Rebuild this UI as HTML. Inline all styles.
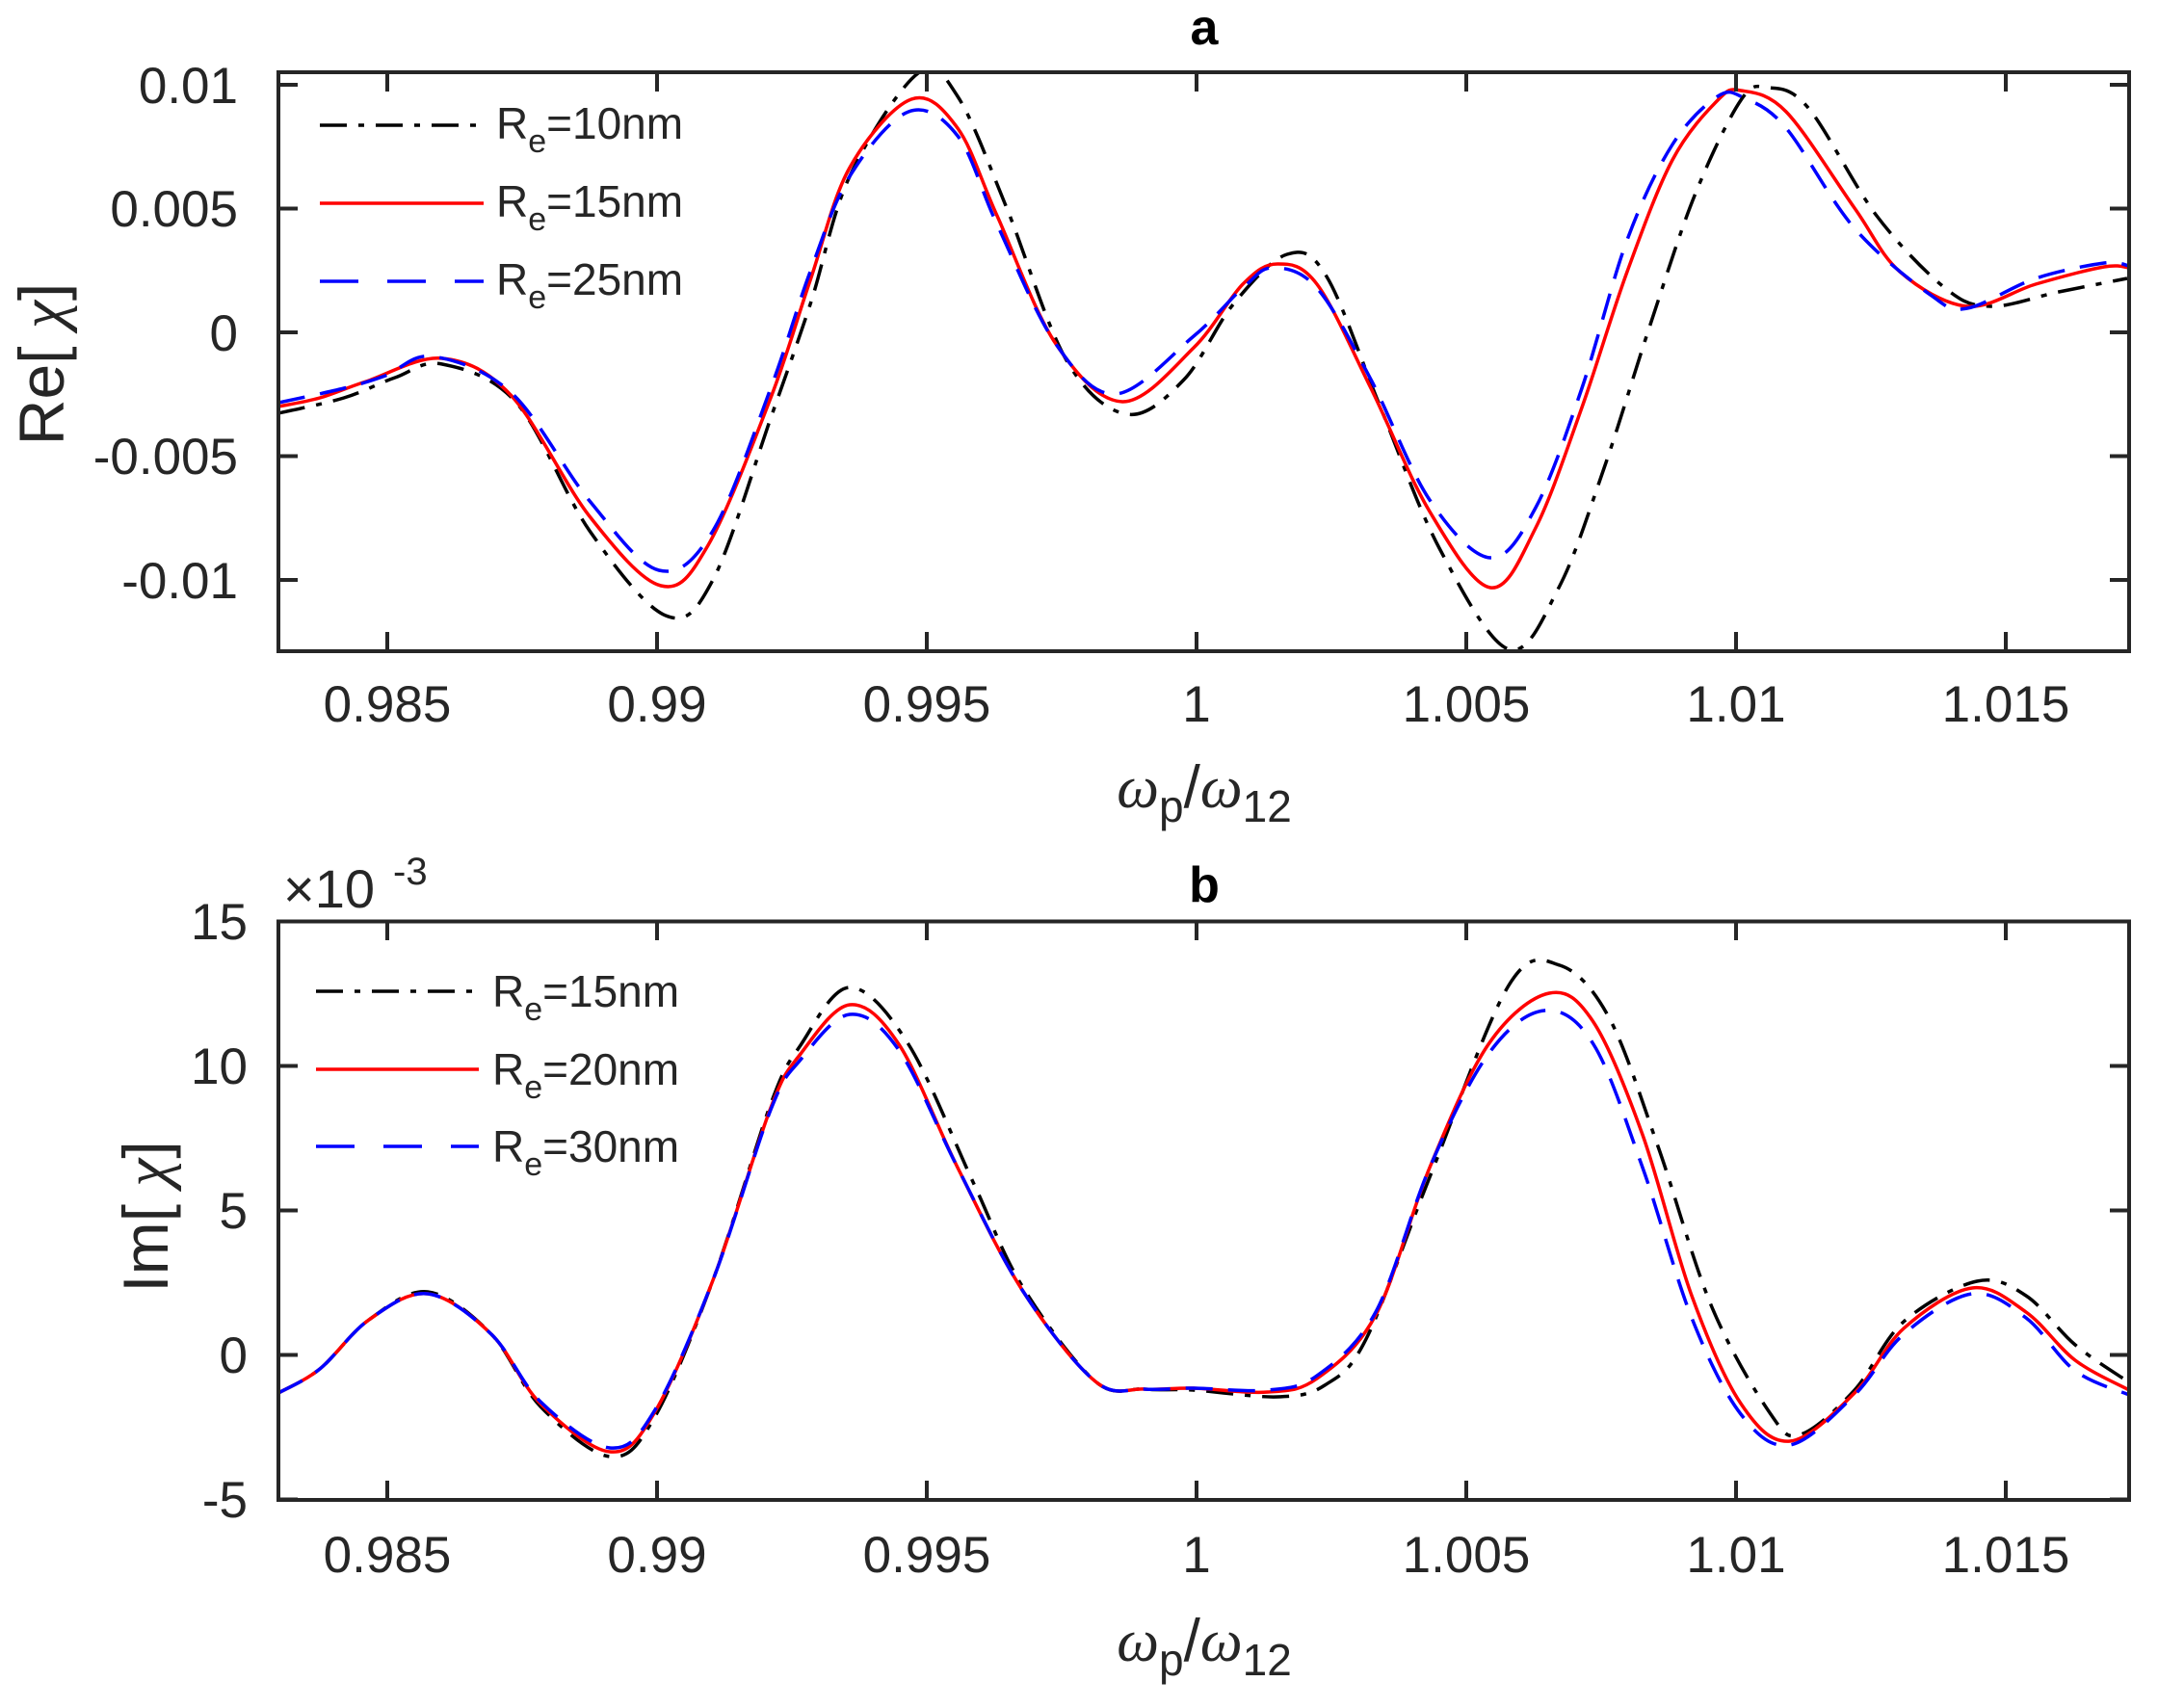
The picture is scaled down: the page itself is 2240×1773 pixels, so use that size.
<!DOCTYPE html>
<html><head><meta charset="utf-8">
<style>
html,body{margin:0;padding:0;background:#fff;}
svg{display:block;}
text{font-family:"Liberation Sans",Arial,sans-serif;fill:#262626;}
</style></head>
<body>
<svg id="s" xmlns="http://www.w3.org/2000/svg" width="2240" height="1773" viewBox="0 0 2240 1773">
<defs>
<clipPath id="c1"><rect x="289" y="75" width="1921" height="601"/></clipPath>
<clipPath id="c2"><rect x="289" y="956" width="1921" height="601"/></clipPath>
</defs>
<rect width="2240" height="1773" fill="#fff"/>
<g id="curves"></g>
<g id="axes" stroke="#262626" stroke-width="4" fill="none">
<rect x="289" y="75" width="1921" height="601"/>
<rect x="289" y="956.5" width="1921" height="600.5"/>
</g>
<g id="ticks" stroke="#262626" stroke-width="4"></g>
<text x="1250" y="46" font-size="52" font-weight="bold" text-anchor="middle" style="fill:#000">a</text>
<text x="1250" y="936" font-size="52" font-weight="bold" text-anchor="middle" style="fill:#000">b</text>
<g font-size="53" text-anchor="end">
<text x="247" y="107">0.01</text>
<text x="247" y="235">0.005</text>
<text x="247" y="364">0</text>
<text x="247" y="492">-0.005</text>
<text x="247" y="621">-0.01</text>
<text x="257" y="975">15</text>
<text x="257" y="1125">10</text>
<text x="257" y="1275">5</text>
<text x="257" y="1425">0</text>
<text x="257" y="1575">-5</text>
</g>
<g font-size="53" text-anchor="middle">
<text x="402" y="749">0.985</text>
<text x="682" y="749">0.99</text>
<text x="962" y="749">0.995</text>
<text x="1242" y="749">1</text>
<text x="1522" y="749">1.005</text>
<text x="1802" y="749">1.01</text>
<text x="2082" y="749">1.015</text>
<text x="402" y="1632">0.985</text>
<text x="682" y="1632">0.99</text>
<text x="962" y="1632">0.995</text>
<text x="1242" y="1632">1</text>
<text x="1522" y="1632">1.005</text>
<text x="1802" y="1632">1.01</text>
<text x="2082" y="1632">1.015</text>
</g>
<text x="1250" y="838" font-size="62" text-anchor="middle"><tspan font-family="Liberation Serif" font-style="italic">ω</tspan><tspan font-size="46" dy="15">p</tspan><tspan dy="-15">/</tspan><tspan font-family="Liberation Serif" font-style="italic">ω</tspan><tspan font-size="46" dy="15">12</tspan></text>
<text x="1250" y="1724" font-size="62" text-anchor="middle"><tspan font-family="Liberation Serif" font-style="italic">ω</tspan><tspan font-size="46" dy="15">p</tspan><tspan dy="-15">/</tspan><tspan font-family="Liberation Serif" font-style="italic">ω</tspan><tspan font-size="46" dy="15">12</tspan></text>
<text transform="translate(66,378) rotate(-90)" font-size="66" text-anchor="middle">Re[ <tspan font-family="Liberation Serif" font-style="italic">χ</tspan>]</text>
<text transform="translate(174,1263) rotate(-90)" font-size="66" text-anchor="middle">Im[ <tspan font-family="Liberation Serif" font-style="italic">χ</tspan>]</text>
<text x="294" y="942" font-size="56">×10</text>
<text x="408" y="918" font-size="40">-3</text>
<g font-size="46">
<text x="515" y="144">R<tspan font-size="34" dy="14">e</tspan><tspan dy="-14">=10nm</tspan></text>
<text x="515" y="225">R<tspan font-size="34" dy="14">e</tspan><tspan dy="-14">=15nm</tspan></text>
<text x="515" y="306">R<tspan font-size="34" dy="14">e</tspan><tspan dy="-14">=25nm</tspan></text>
<text x="511" y="1045">R<tspan font-size="34" dy="14">e</tspan><tspan dy="-14">=15nm</tspan></text>
<text x="511" y="1126">R<tspan font-size="34" dy="14">e</tspan><tspan dy="-14">=20nm</tspan></text>
<text x="511" y="1206">R<tspan font-size="34" dy="14">e</tspan><tspan dy="-14">=30nm</tspan></text>
</g>
<g fill="none" stroke-width="3.5">
<line x1="332" y1="130" x2="502" y2="130" stroke="#000" stroke-dasharray="28 12 6 12"/>
<line x1="332" y1="211" x2="502" y2="211" stroke="#f00"/>
<line x1="332" y1="292" x2="502" y2="292" stroke="#00f" stroke-dasharray="40 30"/>
<line x1="328" y1="1029" x2="497" y2="1029" stroke="#000" stroke-dasharray="28 12 6 12"/>
<line x1="328" y1="1110" x2="497" y2="1110" stroke="#f00"/>
<line x1="328" y1="1190" x2="497" y2="1190" stroke="#00f" stroke-dasharray="40 30"/>
</g>
</svg>
<script>
(function(){
var NS="http://www.w3.org/2000/svg";
function path(pts){
  var d="M"+pts[0][0]+","+pts[0][1];
  for(var i=0;i<pts.length-1;i++){
    var p0=pts[i>0?i-1:0],p1=pts[i],p2=pts[i+1],p3=pts[i+2<pts.length?i+2:i+1];
    var c1x=p1[0]+(p2[0]-p0[0])/6,c1y=p1[1]+(p2[1]-p0[1])/6;
    var c2x=p2[0]-(p3[0]-p1[0])/6,c2y=p2[1]-(p3[1]-p1[1])/6;
    d+=" C"+c1x.toFixed(1)+","+c1y.toFixed(1)+" "+c2x.toFixed(1)+","+c2y.toFixed(1)+" "+p2[0]+","+p2[1];
  }
  return d;
}
var g=document.getElementById("curves");
function add(pts,color,dash,clip){
  var p=document.createElementNS(NS,"path");
  p.setAttribute("d",path(pts));p.setAttribute("fill","none");
  p.setAttribute("stroke",color);p.setAttribute("stroke-width","3.5");
  p.setAttribute("stroke-linejoin","round");
  if(dash)p.setAttribute("stroke-dasharray",dash);
  p.setAttribute("clip-path","url(#"+clip+")");
  g.appendChild(p);
}
var topRed=[[289,422],[332,413],[380,396],[459,372],[531,411],[612,536],[686,608],[735,566],[800,413],[841,291],[882,174],[946,103],[994,133],[1035,224],[1096,357],[1165,417],[1239,361],[1290,295],[1326,274],[1367,295],[1423,403],[1484,531],[1547,610],[1594,548],[1642,423],[1689,282],[1736,166],[1783,104],[1807,94],[1854,116],[1925,216],[1972,282],[2042,318],[2113,295],[2184,277],[2210,278]];
var topBlack=[[289,429],[357,413],[410,392],[459,378],[536,418],[612,551],[691,639],[740,602],[800,434],[841,316],[882,183],[953,76],[994,100],[1045,216],[1107,374],[1170,430],[1229,394],[1280,316],[1336,264],[1377,287],[1433,423],[1494,569],[1566,674],[1618,610],[1665,486],[1712,340],[1759,203],[1807,104],[1835,91],[1877,112],[1948,224],[2019,299],[2066,318],[2137,303],[2208,289]];
var topBlue=[[289,418],[357,403],[400,390],[449,370],[531,408],[612,520],[684,592],[740,551],[800,403],[841,282],[882,183],[943,116],[994,141],[1035,233],[1096,357],[1158,409],[1239,349],[1290,299],[1321,278],[1367,299],[1423,394],[1484,519],[1547,579],[1594,527],[1642,403],[1689,249],[1736,150],[1783,100],[1811,102],[1854,133],[1925,237],[2005,307],[2042,320],[2113,289],[2184,273],[2210,276]];
var botRed=[[289,1446],[332,1421],[383,1370],[444,1343],[510,1385],[561,1457],[633,1507],[679,1467],[740,1329],[800,1150],[831,1094],[882,1043],[933,1084],[994,1212],[1061,1339],[1137,1434],[1188,1442],[1239,1441],[1316,1445],[1367,1431],[1428,1365],[1484,1212],[1545,1084],[1608,1031],[1654,1061],[1705,1178],[1756,1345],[1807,1457],[1858,1496],[1925,1446],[1976,1379],[2047,1337],[2103,1362],[2154,1412],[2210,1443]];
var botBlack=[[289,1446],[332,1421],[383,1370],[444,1341],[510,1385],[561,1460],[633,1512],[679,1472],[740,1329],[800,1146],[831,1085],[882,1025],[943,1084],[1010,1227],[1061,1335],[1137,1434],[1188,1442],[1239,1443],[1326,1450],[1375,1438],[1418,1390],[1484,1222],[1566,1023],[1619,1002],[1670,1056],[1721,1190],[1777,1357],[1838,1468],[1869,1489],[1925,1443],[1976,1372],[2052,1330],[2103,1345],[2154,1396],[2210,1435]];
var botBlue=[[289,1446],[332,1421],[383,1370],[444,1343],[510,1385],[561,1455],[633,1503],[679,1465],[740,1329],[800,1152],[831,1100],[882,1053],[933,1090],[994,1212],[1061,1339],[1137,1434],[1188,1442],[1239,1441],[1316,1443],[1367,1428],[1428,1362],[1484,1212],[1545,1094],[1603,1049],[1654,1084],[1705,1212],[1756,1368],[1807,1468],[1858,1500],[1925,1448],[1976,1385],[2047,1343],[2103,1368],[2154,1423],[2210,1448]];
add(topBlack,"#000","28 12 6 12","c1");
add(topRed,"#f00",null,"c1");
add(topBlue,"#00f","28 16","c1");
add(botBlack,"#000","28 12 6 12","c2");
add(botRed,"#f00",null,"c2");
add(botBlue,"#00f","28 16","c2");
var t=document.getElementById("ticks");
function ln(x1,y1,x2,y2){var l=document.createElementNS(NS,"line");l.setAttribute("x1",x1);l.setAttribute("y1",y1);l.setAttribute("x2",x2);l.setAttribute("y2",y2);t.appendChild(l);}
var xs=[402,682,962,1242,1522,1802,2082];
xs.forEach(function(x){ln(x,75,x,95);ln(x,676,x,656);ln(x,956.5,x,976);ln(x,1557,x,1537);});
[88,216.5,345,473.5,602].forEach(function(y){ln(289,y,309,y);ln(2210,y,2190,y);});
[956.5,1106.5,1256.5,1406.5,1556.5].forEach(function(y){ln(289,y,309,y);ln(2210,y,2190,y);});
})();
</script>
</body></html>
